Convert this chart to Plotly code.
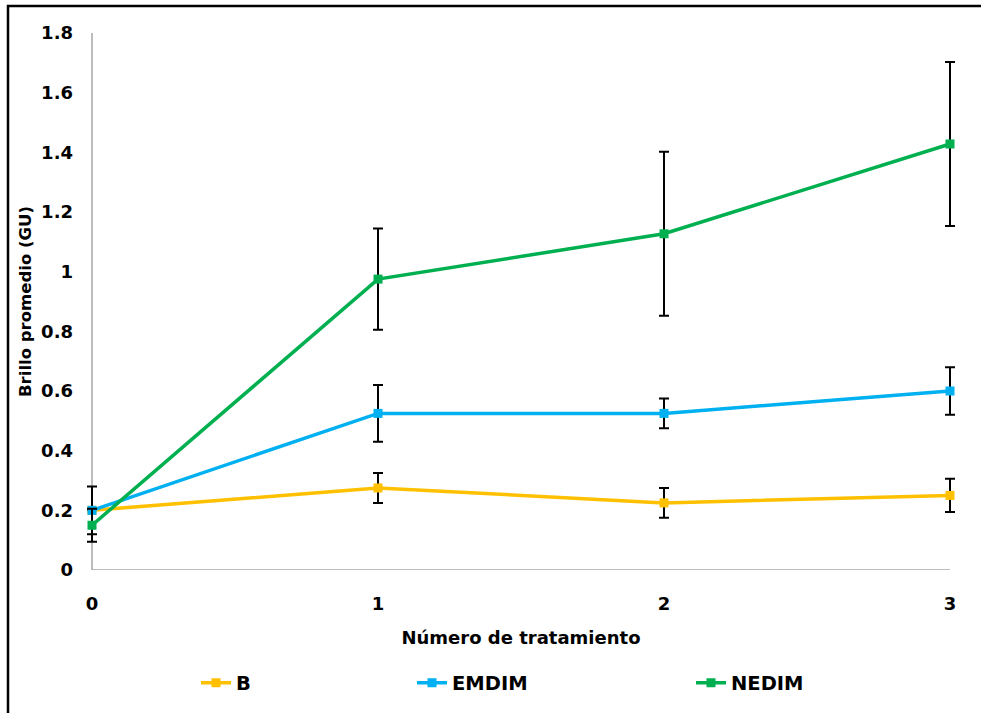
import plotly.graph_objects as go

# Treatment number on the x axis
tratamiento = [0, 1, 2, 3]

# Mean gloss (GU) and error per series
b_vals = [0.20, 0.275, 0.225, 0.25]
b_err = [0.0, 0.05, 0.05, 0.056]

emdim_vals = [0.20, 0.525, 0.525, 0.60]
emdim_err = [0.08, 0.095, 0.05, 0.08]

nedim_vals = [0.15, 0.975, 1.127, 1.428]
nedim_err = [0.055, 0.17, 0.275, 0.275]

series_names = ["B", "EMDIM", "NEDIM"]
series_colors = ["#FFC000", "#00B0F0", "#00B050"]

y_ticks = [0, 0.2, 0.4, 0.6, 0.8, 1.0, 1.2, 1.4, 1.6, 1.8]
y_tick_text = ["0", "0.2", "0.4", "0.6", "0.8", "1", "1.2", "1.4", "1.6", "1.8"]
x_ticks = [0, 1, 2, 3]

W, H = 981, 713
ML, MR, MT, MB = 84, 23, 33, 143
PW, PH = W - ML - MR, H - MT - MB
# a little room either side of 0 and 3 so the end error-bar caps are not clipped
X_PAD = 8 / 286
X_RANGE = [-X_PAD, 3 + X_PAD]


def px_x(p):
    return (p - ML) / PW


def px_y(p):
    return (H - MB - p) / PH


FONT = "DejaVu Sans, Arial, sans-serif"

fig = go.Figure()
data = [(b_vals, b_err), (emdim_vals, emdim_err), (nedim_vals, nedim_err)]
legend_ids = ["legend", "legend2", "legend3"]
for (vals, err), name, color, lg in zip(data, series_names, series_colors, legend_ids):
    fig.add_trace(go.Scatter(
        x=tratamiento, y=vals, name=name, mode="lines+markers",
        line=dict(color=color, width=3.5),
        marker=dict(symbol="square", size=9, color=color),
        error_y=dict(type="data", array=err, visible=True,
                     color="black", thickness=2, width=5),
        cliponaxis=False,
        showlegend=True,
        legend=lg,
    ))

legend_font = dict(family=FONT, size=19.5, color="black", weight="bold")
legend_common = dict(orientation="h", yanchor="middle", xanchor="left",
                     bgcolor="rgba(0,0,0,0)", font=legend_font, itemwidth=30)

tick_font = dict(family=FONT, size=18, color="black", weight="bold")

fig.update_layout(
    width=W, height=H,
    margin=dict(l=ML, r=MR, t=MT, b=MB, autoexpand=False),
    paper_bgcolor="white", plot_bgcolor="white",
    font=dict(family=FONT, size=17, color="black"),
    showlegend=True,
    legend=dict(x=px_x(196), y=px_y(683), **legend_common),
    legend2=dict(x=px_x(412), y=px_y(683), **legend_common),
    legend3=dict(x=px_x(691), y=px_y(683), **legend_common),
    xaxis=dict(
        range=X_RANGE, tickvals=x_ticks, showgrid=False, zeroline=False,
        showline=False, ticks="", ticklabelstandoff=21,
        tickfont=tick_font,
        title=dict(text="<b>Número de tratamiento</b>", standoff=18,
                   font=dict(family=FONT, size=18, color="black")),
    ),
    yaxis=dict(
        range=[0, 1.8], tickvals=y_ticks, ticktext=y_tick_text,
        showgrid=False, zeroline=False, showline=False,
        ticks="", ticklabelstandoff=10,
        tickfont=tick_font,
        title=dict(text="<b>Brillo promedio (GU)</b>", standoff=5,
                   font=dict(family=FONT, size=16.5, color="black")),
    ),
    shapes=[
        # axis lines, running from the origin to the last category / top tick
        dict(type="line", xref="x", yref="y", x0=0, x1=3, y0=0, y1=0,
             line=dict(color="#A6A6A6", width=1.5), layer="below"),
        dict(type="line", xref="x", yref="y", x0=0, x1=0, y0=0, y1=1.8,
             line=dict(color="#A6A6A6", width=1.5), layer="below"),
        # outer frame
        dict(type="rect", xref="paper", yref="paper",
             x0=px_x(8), x1=px_x(983), y0=px_y(715), y1=px_y(6),
             line=dict(color="black", width=2.5), layer="below"),
    ],
)

fig.write_html("out.html")
